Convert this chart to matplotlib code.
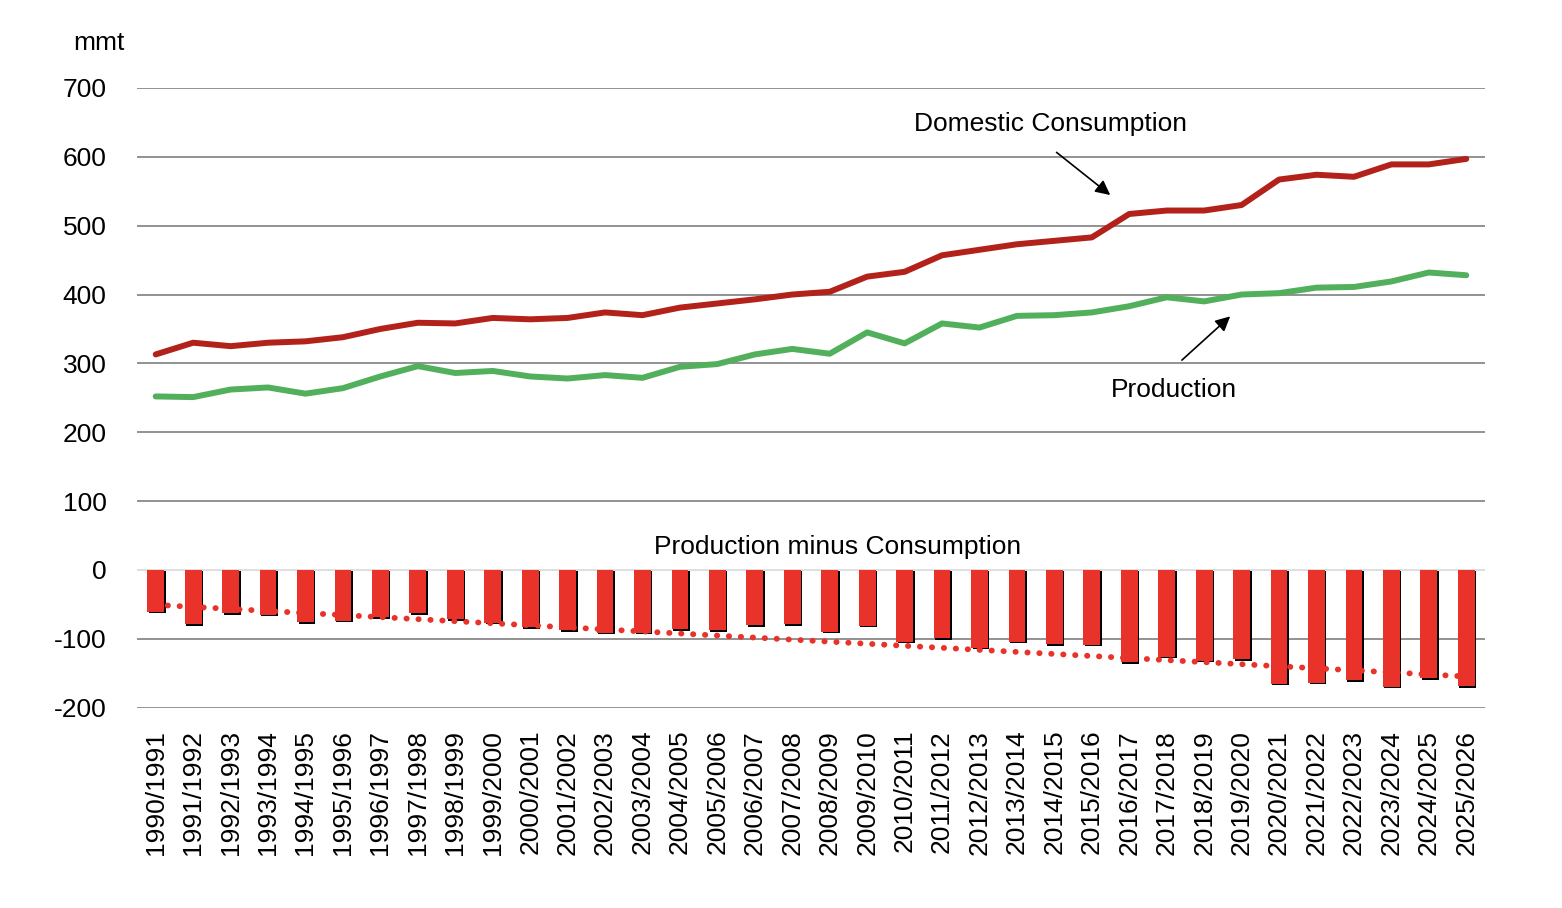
import numpy as np
import matplotlib
matplotlib.use("Agg")
import matplotlib.pyplot as plt
import matplotlib.patheffects as pe

plt.rcParams['font.family'] = ['Liberation Sans', 'DejaVu Sans']
plt.rcParams['axes.unicode_minus'] = False

# marketing years 1990/1991 .. 2025/2026
seasons = [f"{y}/{y + 1}" for y in range(1990, 2026)]

consumption = [313, 330, 325, 330, 332, 338, 350, 359, 358, 366, 364, 366, 374, 370,
               381, 387, 393, 400, 404, 426, 433, 457, 465, 473, 478, 483, 517, 522,
               522, 530, 567, 574, 571, 589, 589, 597]
production = [252, 251, 262, 265, 256, 264, 281, 296, 286, 289, 281, 278, 283, 279,
              295, 299, 313, 321, 314, 345, 329, 358, 352, 369, 370, 374, 383, 396,
              390, 400, 402, 410, 411, 419, 432, 428]

x = np.arange(len(seasons))
gap = np.array(production) - np.array(consumption)
trend = np.polyval(np.polyfit(x, gap, 1), x)

fig = plt.figure(figsize=(15.62, 9.08), dpi=100)
ax = fig.add_axes([0.0877, 0.2207, 0.8630, 0.6824])

# gridlines
for v in range(-200, 701, 100):
    ax.axhline(v, color='#d9d9d9' if v == 0 else '#7f7f7f', lw=1.2, zorder=0)

ax.bar(x, gap, width=0.45, color='#e8322a', zorder=2,
       path_effects=[pe.SimplePatchShadow(offset=(1.1, -1.1), shadow_rgbFace='black', alpha=1),
                     pe.Normal()])
ax.plot(x, trend, color='#e8322a', lw=4.2, linestyle=(0, (0.05, 2.0)),
        dash_capstyle='round', zorder=3)

ax.plot(x, consumption, color='#b3221a', lw=4.3, solid_capstyle='round', zorder=4)
ax.plot(x, production, color='#52b05c', lw=4.3, solid_capstyle='round', zorder=4)

ax.set_xlim(-0.5, len(seasons) - 0.5)
ax.set_ylim(-200, 700)
ax.set_yticks(range(-200, 701, 100))
ax.set_xticks(x)
ax.set_xticklabels(seasons, rotation=90)
ax.tick_params(axis='both', length=0, labelsize=19)
ax.tick_params(axis='y', pad=22)
ax.tick_params(axis='x', pad=16)
for s in ax.spines.values():
    s.set_visible(False)

fig.text(0.063, 0.953, 'mmt', fontsize=19, ha='center', va='center')

ax.annotate('Domestic Consumption', xy=(25.5, 546), xytext=(23.9, 648),
            fontsize=19, ha='center', va='center')
ax.annotate('', xy=(25.55, 542), xytext=(24.0, 609),
            arrowprops=dict(arrowstyle='-|>', color='black', lw=1.2, mutation_scale=22))
ax.annotate('Production', xy=(28.7, 368), xytext=(27.2, 262),
            fontsize=19, ha='center', va='center')
ax.annotate('', xy=(28.75, 371), xytext=(27.35, 302),
            arrowprops=dict(arrowstyle='-|>', color='black', lw=1.2, mutation_scale=22))
ax.text(18.2, 33, 'Production minus Consumption', fontsize=19, ha='center', va='center')

fig.savefig('out.png', dpi=100)
